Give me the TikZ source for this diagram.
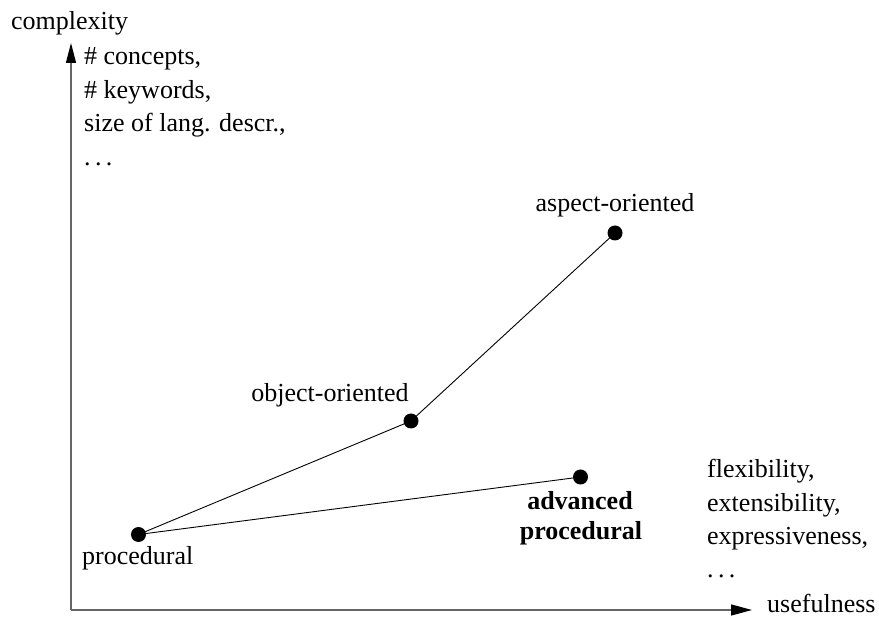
\documentclass[tikz,border=0pt]{standalone}
\usepackage{fontspec}
\setmainfont{Liberation Serif}
\usetikzlibrary{arrows.meta}
\newcommand{\mydots}{.\kern.1667em.\kern.1667em.}
\begin{document}
\begin{tikzpicture}[x=1pt,y=1pt,
  lbl/.style={inner sep=0pt, font=\fontsize{26}{31}\selectfont},
  dot/.style={circle, fill=black, draw=none, minimum size=15pt, inner sep=0pt},
  axis/.style={draw=black!60, line width=1.3pt},
  link/.style={draw=black, line width=0.9pt}]
\useasboundingbox (0,0) rectangle (879,619);
% axes
\coordinate (o) at (71,9);
\coordinate (ytop) at (71,576);
\coordinate (xend) at (752,9);
\draw[axis, -{Triangle[length=20pt,width=10pt,color=black]}] (o) -- (ytop);
\draw[axis, -{Triangle[length=21pt,width=11pt,color=black]}] (o) -- (xend);
% axis labels
\node[lbl, anchor=base west] (ylab) at (11,589) {complexity};
\node[lbl, anchor=base west, text depth=0pt] (xlab) at (767,6) {usefulness};
\node[lbl, anchor=base west] (c1) at (84,554) {\# concepts,};
\node[lbl, anchor=base west] (c2) at (84,520.5) {\# keywords,};
\node[lbl, anchor=base west] (c3) at (84,487) {size of lang. descr.,};
\node[lbl, anchor=base west] (c4) at (84,453.5) {\mydots};
\node[lbl, anchor=base west] (u1) at (707,141) {flexibility,};
\node[lbl, anchor=base west] (u2) at (707,107) {extensibility,};
\node[lbl, anchor=base west] (u3) at (707,74) {expressiveness,};
\node[lbl, anchor=base west] (u4) at (707,41) {\mydots};
% points
\node[dot] (proc) at (138.5,84.5) {};
\node[dot] (obj) at (411,198) {};
\node[dot] (asp) at (615,386) {};
\node[dot] (adv) at (580.5,142) {};
\draw[link] (proc.center) -- (obj.center) -- (asp.center);
\draw[link] (proc.center) -- (adv.center);
% point labels
\node[lbl, anchor=base west] (procl) at (82,54) {procedural};
\node[lbl, anchor=base] (objl) at (330,217) {object-oriented};
\node[lbl, anchor=base] (aspl) at (615,407) {aspect-oriented};
\node[lbl, anchor=base, font=\fontsize{26}{31}\selectfont\bfseries] (advl1) at (580,109) {advanced};
\node[lbl, anchor=base, font=\fontsize{26}{31}\selectfont\bfseries] (advl2) at (581,79) {procedural};
\end{tikzpicture}
\end{document}
